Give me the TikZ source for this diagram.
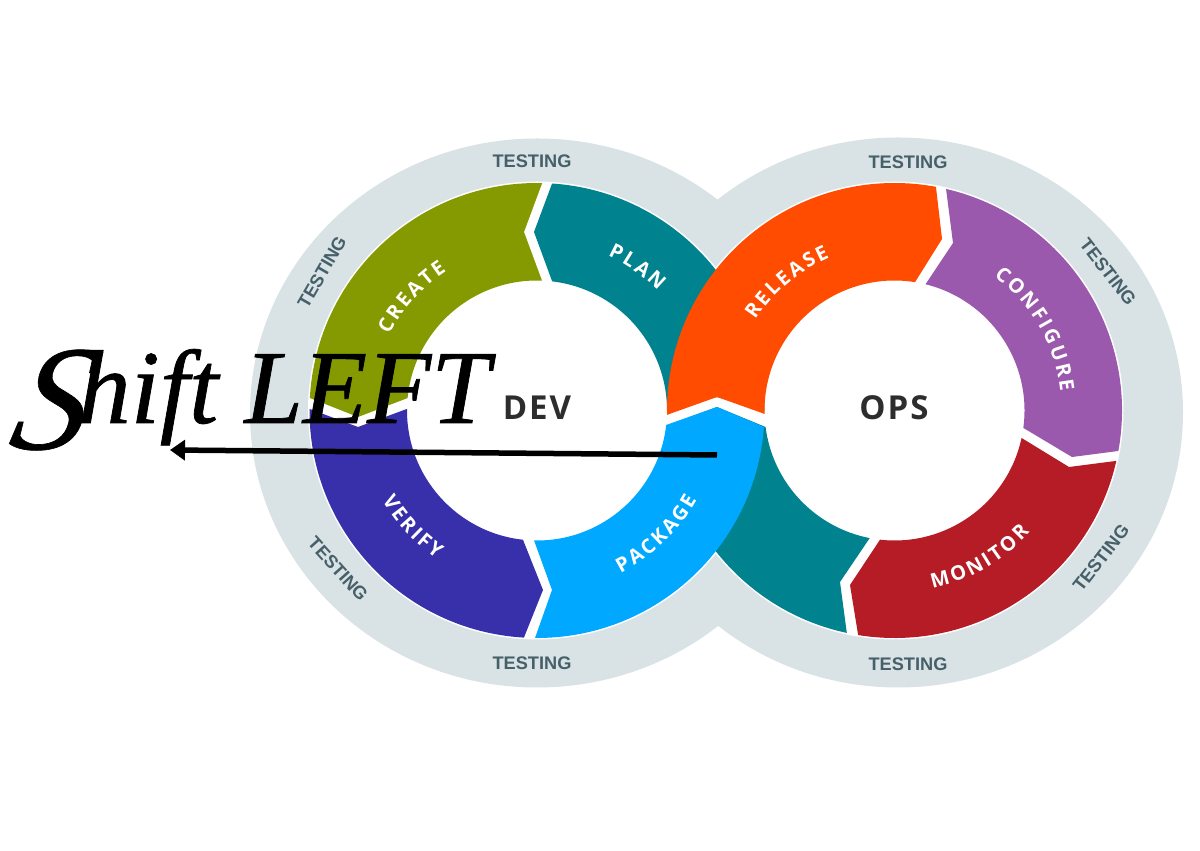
\documentclass[tikz,border=0pt]{standalone}
\usepackage{fontspec}
\usetikzlibrary{decorations.text,arrows.meta}
\setmainfont{Liberation Serif}
\newfontfamily\testfont{Liberation Sans Bold}
\newfontfamily\labfont{Open Sans Bold}
\newfontfamily\hubfont[LetterSpace=6]{Open Sans Bold}
\newfontfamily\shiftfont[FakeBold=0.7]{Liberation Serif Italic}
\newfontfamily\swashfont[FakeBold=0.4,FakeSlant=0.25]{Liberation Serif Italic}
\definecolor{ringgray}{HTML}{D9E2E5}
\definecolor{olive}{HTML}{859A00}
\definecolor{tealc}{HTML}{00828F}
\definecolor{orangec}{HTML}{FF4C00}
\definecolor{purplec}{HTML}{9B59AD}
\definecolor{redc}{HTML}{B51C26}
\definecolor{bluec}{HTML}{00A9FF}
\definecolor{indigoc}{HTML}{3830AB}
\definecolor{testc}{HTML}{46606A}
\definecolor{hubc}{HTML}{2D2D2D}
\tikzset{
 testlab/.style={font=\testfont\fontsize{18.2}{20}\selectfont,text=testc,inner sep=0pt},
 hublab/.style={font=\hubfont\fontsize{33}{36}\selectfont,text=hubc,inner sep=0pt},
 curvelab/.style={decorate,decoration={text effects along path,text={#1},text align=center,
   text effects/.cd,
   character widths={font=\labfont\fontsize{20}{22}\selectfont,inner xsep=1.3pt,inner ysep=0pt},
   characters={font=\labfont\fontsize{20}{22}\selectfont,text=white,inner xsep=0pt,inner ysep=0pt,transform shape,anchor=base}}}
}
\begin{document}
\begin{tikzpicture}[x=1pt,y=1pt]
\useasboundingbox (0,0) rectangle (1200,851);
\coordinate (L) at (537,440.5);
\coordinate (R) at (894.5,440.5);
% grey testing band
\fill[ringgray] (537,438) ellipse [x radius=287pt,y radius=274.5pt];
\fill[ringgray] (898,438.5) ellipse [x radius=285pt,y radius=275pt];
\fill[white] (L) circle [radius=229pt];
\fill[white] (R) circle [radius=229pt];
% segments
\fill[tealc] ([shift={(86.2:227.5)}]L) arc[start angle=86.2,end angle=0,radius=227.5pt]
  -- (717,454) -- ([shift={(0:130)}]L) arc[start angle=0,end angle=83.3,radius=130pt] -- (534,619) -- cycle;
\fill[tealc] ([shift={(259:130)}]R) -- (840,269) -- ([shift={(257.9:227.5)}]R)
  arc[start angle=257.9,end angle=183.7,radius=227.5pt] -- (717,444)
  -- ([shift={(187.3:130)}]R) arc[start angle=187.3,end angle=259,radius=130pt] -- cycle;
\fill[olive] ([shift={(88.7:227.5)}]L) arc[start angle=88.7,end angle=176.85,radius=227.5pt]
  -- (358,434) -- ([shift={(174.5:130)}]L) arc[start angle=174.5,end angle=87.8,radius=130pt] -- (524,619) -- cycle;
\fill[indigoc] ([shift={(179.6:227.5)}]L) arc[start angle=179.6,end angle=266.7,radius=227.5pt]
  -- (543,261) -- ([shift={(263.8:130)}]L) arc[start angle=263.8,end angle=179.3,radius=130pt] -- (358,424) -- cycle;
\fill[bluec] ([shift={(269.5:227.5)}]L) arc[start angle=269.5,end angle=355.84,radius=227.5pt]
  -- (717,444) -- ([shift={(353.6:130)}]L) arc[start angle=353.6,end angle=268.7,radius=130pt] -- (552,261) -- cycle;
\fill[orangec] ([shift={(79.5:227.5)}]R) arc[start angle=79.5,end angle=181.1,radius=227.5pt]
  -- (717,454) -- ([shift={(181.5:130)}]R) arc[start angle=181.5,end angle=80.9,radius=130pt] -- (942,612) -- cycle;
\fill[purplec] ([shift={(76.9:227.5)}]R) arc[start angle=76.9,end angle=-10.25,radius=227.5pt]
  -- (1072,394) -- ([shift={(-7.7:130)}]R) arc[start angle=-7.7,end angle=76.2,radius=130pt] -- (953,608) -- cycle;
\fill[redc] ([shift={(-12.8:227.5)}]R) arc[start angle=-12.8,end angle=-99.2,radius=227.5pt]
  -- (850,266) -- ([shift={(-96.4:130)}]R) arc[start angle=-96.4,end angle=-12.2,radius=130pt] -- (1069,384) -- cycle;
% curved labels
\path[curvelab=CREATE] ([shift={(178:166)}]L) arc[start angle=178,end angle=98,radius=166pt];
\path[curvelab=PLAN] ([shift={(95:170)}]L) arc[start angle=95,end angle=15,radius=170pt];
\path[curvelab=RELEASE] ([shift={(175:166)}]R) arc[start angle=175,end angle=85,radius=166pt];
\path[curvelab=CONFIGURE] ([shift={(80:167)}]R) arc[start angle=80,end angle=-20,radius=167pt];
\path[curvelab=VERIFY] ([shift={(183:179)}]L) arc[start angle=183,end angle=263,radius=179pt];
\path[curvelab=PACKAGE] ([shift={(-91:183)}]L) arc[start angle=-91,end angle=-1,radius=183pt];
\path[curvelab=MONITOR] ([shift={(-105:182)}]R) arc[start angle=-105,end angle=-15,radius=182pt];
% hub labels
\node[hublab] (dev) at (537,443) {DEV};
\node[hublab] (ops) at (894,443) {OPS};
% testing labels
\node[testlab] (t1) at (532,690) {TESTING};
\node[testlab,rotate=60] (t2) at (322,579) {TESTING};
\node[testlab,rotate=-48] (t3) at (338,282) {TESTING};
\node[testlab] (t4) at (532,188) {TESTING};
\node[testlab] (t5) at (908,689) {TESTING};
\node[testlab,rotate=-52] (t6) at (1108,579) {TESTING};
\node[testlab,rotate=52] (t7) at (1101,293) {TESTING};
\node[testlab] (t8) at (908,187) {TESTING};
% shift left
\node[font=\shiftfont\fontsize{105}{108}\selectfont,inner sep=0pt,anchor=base west] (shift) at (6,428)
  {\raisebox{-26pt}{\swashfont\fontsize{150}{150}\selectfont S}\hspace{-3pt}hift LEFT};
\coordinate (arrowstart) at (717,396);
\coordinate (arrowend) at (170,401);
\draw[line width=5.5pt,-{Triangle[length=15pt,width=20pt]}] (arrowstart) -- (arrowend);
\end{tikzpicture}
\end{document}
